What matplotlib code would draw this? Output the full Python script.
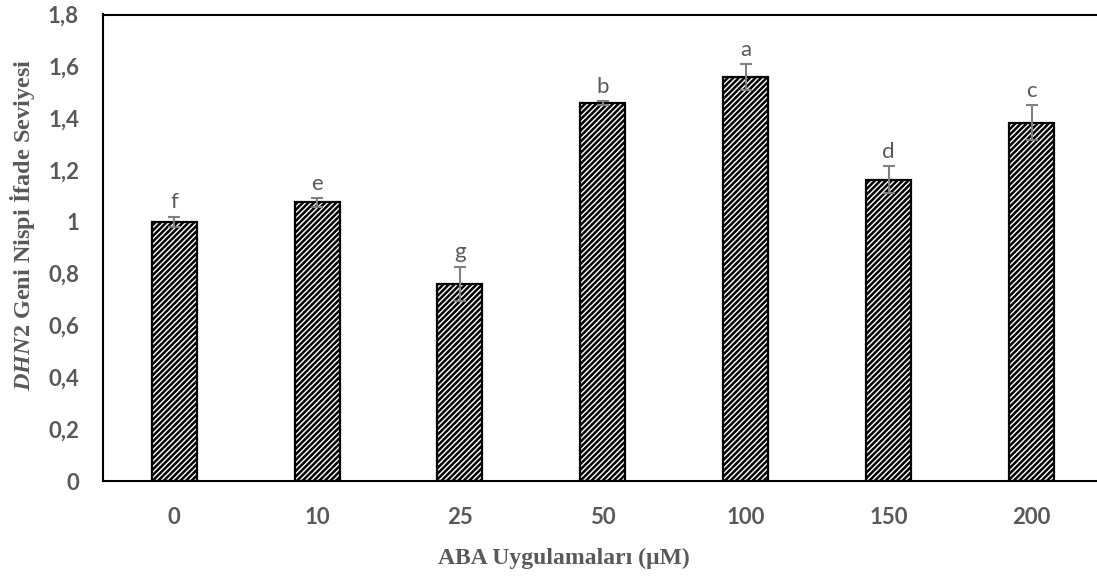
import matplotlib
matplotlib.use("Agg")
import matplotlib.pyplot as plt
import numpy as np

categories = ["0", "10", "25", "50", "100", "150", "200"]
values = [1.0, 1.075, 0.76, 1.458, 1.558, 1.163, 1.383]
errors = [0.02, 0.017, 0.067, 0.007, 0.05, 0.052, 0.067]
letters = ["f", "e", "g", "b", "a", "d", "c"]
yticks = [0, 0.2, 0.4, 0.6, 0.8, 1.0, 1.2, 1.4, 1.6, 1.8]
ytick_labels = ["0", "0,2", "0,4", "0,6", "0,8", "1", "1,2", "1,4", "1,6", "1,8"]

plt.rcParams['hatch.linewidth'] = 1.8
plt.rcParams['mathtext.fontset'] = 'custom'
plt.rcParams['mathtext.it'] = 'Liberation Serif:italic:bold'
plt.rcParams['mathtext.rm'] = 'Liberation Serif:bold'

gray = "#595959"
fig = plt.figure(figsize=(10.97, 5.77), dpi=100)
ax = fig.add_axes([102.7/1097, 1-481/577, 1000.3/1097, (481-14.5)/577])

x = np.arange(len(categories))
ax.bar(x, values, width=0.315, color="white", edgecolor="black", hatch="//////", linewidth=1.6, zorder=2)
ax.errorbar(x, values, yerr=errors, fmt="none", ecolor="#808080", elinewidth=1.5, capsize=4.3, capthick=1.5, zorder=3)
for xi, v, e, l in zip(x, values, errors, letters):
    ax.annotate(l, xy=(xi, v+e), xytext=(0, 6), textcoords="offset points",
                ha="center", va="baseline", fontsize=16, color=gray, family="Lato")

ax.set_xlim(-0.5, len(categories)-0.5)
ax.set_ylim(0, 1.8)
ax.set_yticks(yticks)
ax.set_yticklabels(ytick_labels)
ax.set_xticks(x)
ax.set_xticklabels(categories)
ax.tick_params(axis="both", length=0, labelsize=16, labelcolor=gray)
ax.tick_params(axis="y", pad=17)
ax.tick_params(axis="x", pad=19)
for lab in ax.get_xticklabels() + ax.get_yticklabels():
    lab.set_fontweight("bold")
    lab.set_family("Lato")
for s in ax.spines.values():
    s.set_linewidth(1.5)
    s.set_color("black")

fig.text(564/1097, 1-558/577, "ABA Uygulamaları (µM)", ha="center", va="center",
         fontsize=17, fontweight="bold", color=gray, family="Liberation Serif")
fig.text(23/1097, 1-225/577, r"$\mathit{DHN2}$ Geni Nispi İfade Seviyesi", ha="center", va="center",
         rotation=90, fontsize=17.5, fontweight="bold", color=gray, family="Liberation Serif")

fig.savefig("out.png", dpi=100)
